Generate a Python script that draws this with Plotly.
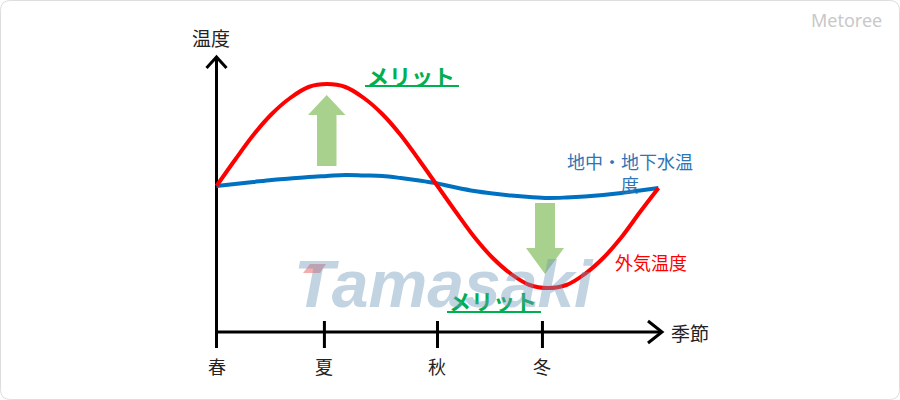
import plotly.graph_objects as go

# ---------------- data ----------------
months = [i * 0.5 for i in range(25)]  # one year, half-month steps
outside_temp = [0, 2.6, 5.1, 7.2, 8.8, 9.9, 10.2, 9.9, 8.8, 7.2, 5.1, 2.6, 0,
                -2.6, -5.1, -7.2, -8.8, -9.9, -10.2, -9.9, -8.8, -7.2, -5.1, -2.6, -0.2]
ground_temp = [0, 0.2, 0.4, 0.6, 0.75, 0.9, 1.0, 1.1, 1.05, 1.0, 0.8, 0.55, 0.25,
               -0.15, -0.5, -0.75, -0.95, -1.1, -1.2, -1.15, -1.05, -0.9, -0.7, -0.45, -0.2]
seasons = ["春", "夏", "秋", "冬"]
season_pos = [0, 2.93, 6.0, 8.85]

# ---------------- pixel helpers (layout only) ----------------
W, H = 900, 400
def X(px):
    return (px - 216.5) / 36.83
def Y(py):
    return (186 - py) / 10.0

JP = "Noto Sans CJK JP"
fig = go.Figure()

fig.add_trace(go.Scatter(x=months, y=ground_temp, mode="lines",
                         line=dict(color="#0070C0", width=4, shape="spline"),
                         hoverinfo="skip"))
fig.add_trace(go.Scatter(x=months, y=outside_temp, mode="lines",
                         line=dict(color="#FF0000", width=4, shape="spline"),
                         hoverinfo="skip"))

shapes = []
blk = dict(color="black", width=3)
axis_y = Y(332)
# x axis + arrow
shapes.append(dict(type="line", x0=X(216.5), x1=X(662), y0=axis_y, y1=axis_y, line=blk, layer="below"))
shapes.append(dict(type="path", path=f"M {X(648)},{Y(321)} L {X(662)},{axis_y} L {X(648)},{Y(343)}",
                   line=blk, layer="below"))
# y axis + arrow
shapes.append(dict(type="line", x0=X(216.5), x1=X(216.5), y0=Y(348), y1=Y(57), line=blk, layer="below"))
shapes.append(dict(type="path", path=f"M {X(206.5)},{Y(68)} L {X(216.5)},{Y(57)} L {X(226.5)},{Y(68)}",
                   line=blk, layer="below"))
# season ticks
for p in season_pos[1:]:
    shapes.append(dict(type="line", x0=p, x1=p, y0=Y(321), y1=Y(348), line=blk, layer="below"))

# green arrows
g = "#A9D18E"
up = (f"M {X(317)},{Y(166)} L {X(317)},{Y(115)} L {X(308)},{Y(115)} L {X(326.7)},{Y(95)} "
      f"L {X(345.5)},{Y(115)} L {X(336.5)},{Y(115)} L {X(336.5)},{Y(166)} Z")
down = (f"M {X(535)},{Y(203)} L {X(535)},{Y(248)} L {X(526)},{Y(248)} L {X(545)},{Y(274)} "
        f"L {X(564)},{Y(248)} L {X(555)},{Y(248)} L {X(555)},{Y(203)} Z")
shapes.append(dict(type="path", path=up, fillcolor=g, line=dict(width=0), layer="below"))
shapes.append(dict(type="path", path=down, fillcolor=g, line=dict(width=0), layer="below"))

# underlines for メリット
gr = "#00B050"
shapes.append(dict(type="line", x0=X(365), x1=X(459), y0=Y(86), y1=Y(86), line=dict(color=gr, width=2)))
shapes.append(dict(type="line", x0=X(447), x1=X(541), y0=Y(312), y1=Y(312), line=dict(color=gr, width=2)))

# watermark pink accent
shapes.append(dict(type="path",
                   path=f"M {X(303)},{Y(273)} L {X(310)},{Y(264)} L {X(326)},{Y(264)} L {X(320)},{Y(273)} Z",
                   fillcolor="rgba(240,90,90,0.5)", line=dict(width=0), layer="above"))

# rounded border
r = 10
bx0, by0, bx1, by1 = 0.5, 0.5, W - 0.5, H - 0.5
def P(px, py):
    return f"{px / W},{1 - py / H}"
border = (f"M {P(bx0 + r, by0)} L {P(bx1 - r, by0)} Q {P(bx1, by0)} {P(bx1, by0 + r)} "
          f"L {P(bx1, by1 - r)} Q {P(bx1, by1)} {P(bx1 - r, by1)} "
          f"L {P(bx0 + r, by1)} Q {P(bx0, by1)} {P(bx0, by1 - r)} "
          f"L {P(bx0, by0 + r)} Q {P(bx0, by0)} {P(bx0 + r, by0)} Z")
shapes.append(dict(type="path", xref="paper", yref="paper", path=border,
                   line=dict(color="#DDDDDD", width=1)))

ann = []
def txt(px, py, s, size=19, color="#222222", family=JP, **kw):
    ann.append(dict(x=X(px), y=Y(py), text=s, showarrow=False,
                    xanchor="center", yanchor="middle",
                    font=dict(family=family, size=size, color=color), **kw))

txt(211, 37, "温度")
txt(690, 332, "季節")
for s, p in zip(seasons, season_pos):
    ann.append(dict(x=p, y=Y(366), text=s, showarrow=False,
                    font=dict(family=JP, size=18, color="#222222")))
txt(411, 75, "<b>メリット</b>", size=22, color=gr)
txt(493, 300, "<b>メリット</b>", size=22, color=gr)
txt(630, 172, "地中・地下水温<br>度", size=18, color="#2E75B6")
txt(651, 262, "外気温度", size=18, color="#FF0000")
txt(444, 284, "<b><i>Tamasaki</i></b>", size=66, color="rgba(110,150,185,0.42)",
    family="Liberation Sans")
ann.append(dict(x=846 / W, y=1 - 20 / H, xref="paper", yref="paper", text="Metoree",
                xanchor="center", yanchor="middle",
                showarrow=False, font=dict(family="Noto Sans", size=18, color="#C8C8C8")))

fig.update_layout(
    width=W, height=H, autosize=False,
    margin=dict(l=0, r=0, t=0, b=0),
    paper_bgcolor="white", plot_bgcolor="white",
    showlegend=False,
    xaxis=dict(range=[X(0), X(W)], visible=False, fixedrange=True),
    yaxis=dict(range=[Y(H), Y(0)], visible=False, fixedrange=True),
    shapes=shapes, annotations=ann,
)
fig.write_html("out.html")
